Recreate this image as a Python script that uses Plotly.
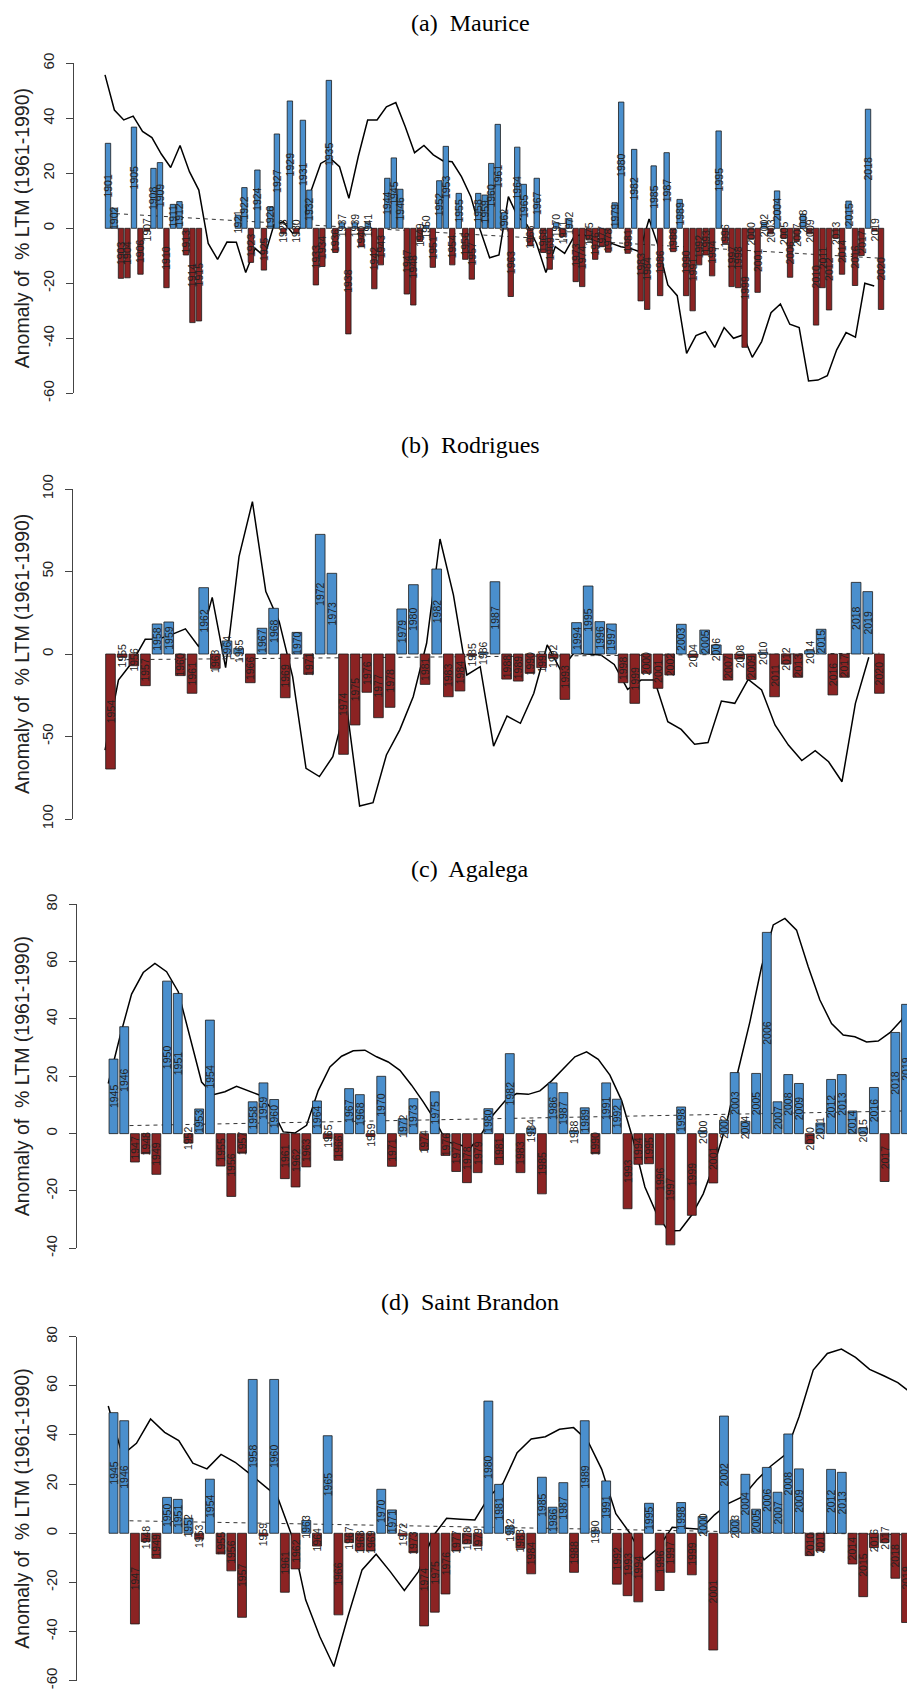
import plotly.graph_objects as go
import numpy as np

# ---------------- DATA ----------------
maurice_years = list(range(1901, 2021))
maurice_vals = [30.9, 7.3, -18.2, -18.0, 36.8, -16.7, -1.0, 21.8, 23.9, -21.6,
                8.7, 9.7, -9.7, -34.3, -33.7, None, None, None, None, None,
                4.8, 14.8, -12.4, 21.2, -15.2, 7.9, 34.3, -2.0, 46.3, -2.0,
                39.3, 13.9, -20.6, -13.9, 53.8, -8.8, 2.0, -38.4, 2.0, -6.7,
                2.0, -22.0, -13.3, 18.2, 25.6, 14.2, -23.9, -27.9, -4.8, 1.0,
                -14.2, 17.3, 29.8, -13.3, 12.7, -11.3, -18.5, 12.7, 12.1, 23.6,
                37.8, 5.7, -24.8, 29.5, 16.0, -6.4, 18.2, -8.8, -14.9, 2.0,
                -3.0, 3.6, -19.4, -21.2, -4.2, -11.3, -6.7, -8.7, 9.3, 45.9,
                -9.1, 28.7, -26.4, -29.5, 22.7, -24.5, 27.5, -8.5, 10.5, -24.5,
                -30.0, -13.3, -9.7, -17.3, 35.4, -5.5, -21.2, -21.6, -43.3, -4.0,
                -23.3, 2.1, -2.0, 13.6, -3.6, -17.8, -4.8, 5.1, -2.0, -35.2,
                -21.6, -29.7, -3.6, -16.7, 9.9, -20.8, -9.9, 43.3, -1.0, -29.5]
maurice_smooth = [55.8, 43.0, 39.4, 40.8, 35.2, 33.0, 27.0, 22.1, 30.1, 20.6,
                  13.9, -5.5, -11.3, -5.0, -5.1, -16.1, -7.3, -10.3, 1.2, 2.4,
                  -1.8, 0.6, 13.9, 23.6, 25.5, 22.4, 10.9, 26.1, 39.4, 39.4,
                  44.2, 45.7, 37.0, 27.5, 30.1, 26.7, 24.6, 24.2, 18.8, 11.5,
                  -0.6, -10.7, -9.7, 11.5, 4.2, 1.2, -5.5, -16.1, -6.7, -9.1,
                  -3.0, -2.1, -4.2, -3.6, -5.5, -6.7, -7.3, -8.5, 3.4, -6.7,
                  -20.6, -24.5, -45.5, -39.0, -37.6, -43.3, -36.1, -40.0, -38.8, -46.9,
                  -41.2, -30.7, -27.5, -34.9, -36.1, -55.5, -55.2, -53.6, -44.2, -37.9,
                  -39.6, -20.0, -21.0]
maurice_trend = [5.5, -10.9]

rodrigues_years = list(range(1954, 2021))
rodrigues_vals = [-69.7, -2.0, -7.1, -19.2, 18.2, 19.4, -13.1, -23.8, 40.2, -8.7,
                  7.9, 3.4, -17.4, 15.6, 27.7, -26.5, 13.1, -12.3, 72.5, 48.9,
                  -60.8, -43.0, -23.2, -38.6, -32.3, 27.3, 42.0, -18.4, 51.5, -25.9,
                  -22.4, -1.0, 1.0, 43.8, -15.2, -16.4, -11.7, -8.3, -2.6, -27.5,
                  19.0, 41.2, 19.6, 18.2, -17.4, -29.9, -11.7, -20.8, -12.7, 18.0,
                  -2.0, 14.5, 5.5, -15.8, -3.0, -15.4, 1.0, -25.9, -6.1, -14.1,
                  2.0, 15.0, -24.8, -14.1, 43.4, 37.8, -23.8]
rodrigues_smooth = [-58.2, -15.8, -5.3, 8.9, 9.1, 11.9, 15.2, 4.4, 34.3, -8.3,
                    59.0, 92.3, 37.8, 19.6, -13.7, -69.3, -74.3, -62.2, -29.9, -92.1,
                    -90.1, -61.2, -46.0, -25.9, 6.5, 69.7, 35.8, -12.7, -7.7, -55.8,
                    -37.6, -42.0, -23.8, 5.5, -9.7, 0.6, 0.0, -0.6, -6.3, -21.4,
                    -15.8, -15.8, -41.0, -45.7, -54.7, -53.7, -28.5, -29.9, -15.4, -21.8,
                    -43.0, -55.2, -64.6, -58.6, -65.3, -77.4, -29.9, -2.0]
rodrigues_trend = [-3.5, 0.5]

agalega_years = list(range(1945, 2021))
agalega_vals = [26.0, 37.3, -9.9, -7.0, -14.2, 53.2, 48.9, -3.3, 8.6, 39.6,
                -11.3, -21.9, -6.8, 11.1, 17.7, 11.9, -15.7, -18.6, -11.6, 11.4,
                -1.7, -9.3, 15.7, 13.6, -1.0, 20.0, -11.4, 5.2, 12.2, -5.6,
                14.6, -7.6, -13.2, -17.1, -13.6, 8.7, -10.8, 27.9, -13.6, 2.0,
                -21.0, 17.7, 14.3, 1.0, 9.0, -7.0, 17.7, 12.0, -26.2, -10.7,
                -10.5, -31.8, -38.8, 9.3, -28.5, 1.0, -17.2, 4.7, 21.3, 4.3,
                21.0, 70.2, 11.1, 20.6, 17.5, -3.5, 3.7, 18.9, 20.6, 7.9,
                2.0, 16.1, -16.7, 35.3, 45.1, 27.1]
agalega_smooth = [17.5, 33.8, 48.7, 56.2, 59.4, 56.5, 49.5, 33.8, 18.0, 13.6,
                  14.6, 16.5, 14.9, 13.4, 8.7, 0.6, 0.2, 2.9, 15.0, 23.3,
                  27.0, 28.9, 29.1, 26.8, 25.0, 22.1, 16.9, 11.1, 4.7, -2.9,
                  -3.7, -5.2, 0.0, 6.6, 11.4, 14.0, 13.7, 14.9, 18.4, 22.7,
                  26.8, 28.5, 25.9, 20.4, 11.6, -2.3, -18.6, -27.9, -34.0, -33.8,
                  -28.5, -21.0, -9.9, 3.5, 22.1, 39.0, 58.2, 72.8, 75.1, 71.0,
                  58.2, 46.6, 38.4, 34.4, 33.8, 32.0, 32.3, 35.2, 39.6, 48.9, 58.0]
agalega_trend = [2.7, 8.0]

brandon_years = list(range(1945, 2021))
brandon_vals = [49.1, 45.8, -36.9, -3.4, -10.2, 14.6, 13.8, 6.1, -2.4, 22.0,
                -8.4, -15.3, -34.2, 62.6, -1.0, 62.6, -24.0, -14.5, 5.2, -5.2,
                39.7, -33.2, -3.8, -7.1, -7.2, 17.9, 9.5, -1.0, -7.9, -37.7,
                -32.1, -24.7, -7.2, -4.3, -5.2, 53.8, 19.9, 2.7, -6.1, -16.5,
                22.8, 10.6, 20.6, -15.9, 45.8, 1.0, 21.3, -20.7, -25.4, -27.9,
                12.2, -23.3, -15.9, 12.5, -16.9, 6.8, -47.5, 47.7, 5.4, 24.0,
                9.8, 26.8, 16.7, 40.4, 26.2, -9.1, -7.2, 26.0, 24.8, -12.5,
                -25.8, -5.8, -3.8, -18.3, -36.3, 10.6]
brandon_smooth = [51.8, 31.9, 36.6, 46.5, 41.1, 37.7, 28.5, 26.2, 32.1, 28.9,
                  24.4, 19.7, 14.9, -0.7, -27.1, -42.0, -54.2, -33.9, -14.9, -8.5,
                  -15.6, -23.3, -15.6, -1.4, 6.1, 5.7, 5.4, 14.9, 20.3, 32.8,
                  38.4, 39.3, 42.3, 43.0, 37.7, 26.0, 8.0, 0.0, -10.8, -6.0,
                  2.4, 2.0, 1.6, 7.5, 12.2, 14.9, 21.7, 27.4, 31.9, 47.5,
                  66.4, 73.2, 75.0, 71.6, 66.7, 64.1, 61.3, 56.9]
brandon_trend = [5.2, -0.7]

titles = ['(a)\u00a0 Maurice', '(b)\u00a0 Rodrigues', '(c)\u00a0 Agalega', '(d)\u00a0 Saint Brandon']
y_title = 'Anomaly of\u00a0 % LTM (1961-1990)'

# ---------------- LAYOUT CONSTANTS (page pixels) ----------------
PAGE_W, PAGE_H = 915, 1695
OFF = 8                      # default <body> margin of the html page
W, H = PAGE_W - OFF, PAGE_H - OFF
BLUE = '#4A8FCD'
RED = '#8B2323'
SANS = 'Liberation Sans, Arial, sans-serif'
SERIF = 'Liberation Serif, Times New Roman, serif'

panels = [
    dict(years=maurice_years, vals=maurice_vals, smooth=maurice_smooth, trend=maurice_trend,
         smooth_span=(1900.54, 2018.95), ticks=[-60, -40, -20, 0, 20, 40, 60],
         ypx=(63.3, 393.3), axis_px=74.0, xref=(1901, 108.0, 6.496), title_y=23),
    dict(years=rodrigues_years, vals=rodrigues_vals, smooth=rodrigues_smooth, trend=rodrigues_trend,
         smooth_span=(1953.53, 2019.09), ticks=[-100, -50, 0, 50, 100],
         ticktext=['100', '-50', '0', '50', '100'],
         ypx=(489.0, 819.0), axis_px=72.7, xref=(1954, 110.5, 11.65), title_y=445),
    dict(years=agalega_years, vals=agalega_vals, smooth=agalega_smooth, trend=agalega_trend,
         smooth_span=(1944.51, 2020.76), ticks=[-40, -20, 0, 20, 40, 60, 80],
         ypx=(904.3, 1248.3), axis_px=76.7, xref=(1945, 113.5, 10.71), title_y=869),
    dict(years=brandon_years, vals=brandon_vals, smooth=brandon_smooth, trend=brandon_trend,
         smooth_span=(1944.51, 2019.55), ticks=[-60, -40, -20, 0, 20, 40, 60, 80],
         ypx=(1336.7, 1680.7), axis_px=76.7, xref=(1945, 113.5, 10.71), title_y=1302),
]

def fx(px):   # page x pixel -> paper fraction
    return (px - OFF) / W

def fy(py):   # page y pixel -> paper fraction
    return 1 - (py - OFF) / H

fig = go.Figure()
layout = dict(width=W, height=H, autosize=False,
              margin=dict(l=0, r=0, t=0, b=0, pad=0, autoexpand=False),
              paper_bgcolor='white', plot_bgcolor='white', showlegend=False,
              bargap=0.17, font=dict(family=SANS, color='#222'))
annotations = []

for i, p in enumerate(panels):
    b = 2 * i + 1
    o = 2 * i + 2
    y0, p0, s = p['xref']
    xr = [y0 + (p['axis_px'] - p0) / s, y0 + (PAGE_W - p0) / s]
    lo, hi = p['ticks'][0], p['ticks'][-1]
    top_px, bot_px = p['ypx']
    ydom = [fy(bot_px), fy(top_px)]
    xdom = [fx(p['axis_px']), 1.0]

    layout[f'xaxis{b}'] = dict(domain=xdom, range=xr, visible=False, anchor=f'y{b}',
                               automargin=False)
    layout[f'yaxis{b}'] = dict(domain=ydom, range=[lo, hi], anchor=f'x{b}', automargin=False,
                               tickmode='array', tickvals=p['ticks'],
                               ticktext=p.get('ticktext', [str(t) for t in p['ticks']]),
                               ticks='outside', ticklen=7, tickwidth=1, tickcolor='#444',
                               showline=True, linecolor='#444', linewidth=1,
                               showgrid=False, zeroline=False, tickangle=-90,
                               ticklabelstandoff=6,
                               tickfont=dict(size=15, family=SANS, color='#222'))
    layout[f'xaxis{o}'] = dict(overlaying=f'x{b}', range=xr, visible=False, anchor=f'y{o}',
                               automargin=False)
    layout[f'yaxis{o}'] = dict(overlaying=f'y{b}', range=[lo, hi], visible=False, anchor=f'x{o}',
                               automargin=False)

    years = p['years']
    sx = np.linspace(p['smooth_span'][0], p['smooth_span'][1], len(p['smooth']))
    fig.add_trace(go.Scatter(x=sx, y=p['smooth'], mode='lines',
                             line=dict(color='black', width=1.5),
                             xaxis=f'x{b}', yaxis=f'y{b}', hoverinfo='skip'))
    fig.add_trace(go.Scatter(x=[years[0], years[-1]], y=p['trend'], mode='lines',
                             line=dict(color='#333', width=1, dash='4px,4px'),
                             xaxis=f'x{b}', yaxis=f'y{b}', hoverinfo='skip'))
    vals = p['vals']
    colors = [BLUE if (v is not None and v >= 0) else RED for v in vals]
    texts = [str(yr) if v is not None else '' for yr, v in zip(years, vals)]
    fig.add_trace(go.Bar(x=years, y=vals,
                         marker=dict(color=colors, line=dict(color='#1a1a1a', width=0.8)),
                         text=texts, textposition='inside', insidetextanchor='middle',
                         textangle=-90, constraintext='none',
                         insidetextfont=dict(size=10.5, family=SANS, color='#222'),
                         xaxis=f'x{o}', yaxis=f'y{o}', hoverinfo='skip'))

    annotations.append(dict(text=titles[i], x=fx(470), y=fy(p['title_y']),
                            xref='paper', yref='paper', showarrow=False,
                            xanchor='center', yanchor='middle',
                            font=dict(family=SERIF, size=24, color='black')))
    annotations.append(dict(text=y_title, x=fx(22), y=(ydom[0] + ydom[1]) / 2,
                            xref='paper', yref='paper', showarrow=False, textangle=-90,
                            xanchor='center', yanchor='middle',
                            font=dict(family=SANS, size=19.5, color='#222')))

layout['annotations'] = annotations
fig.update_layout(**layout)
fig.write_html('out.html')
